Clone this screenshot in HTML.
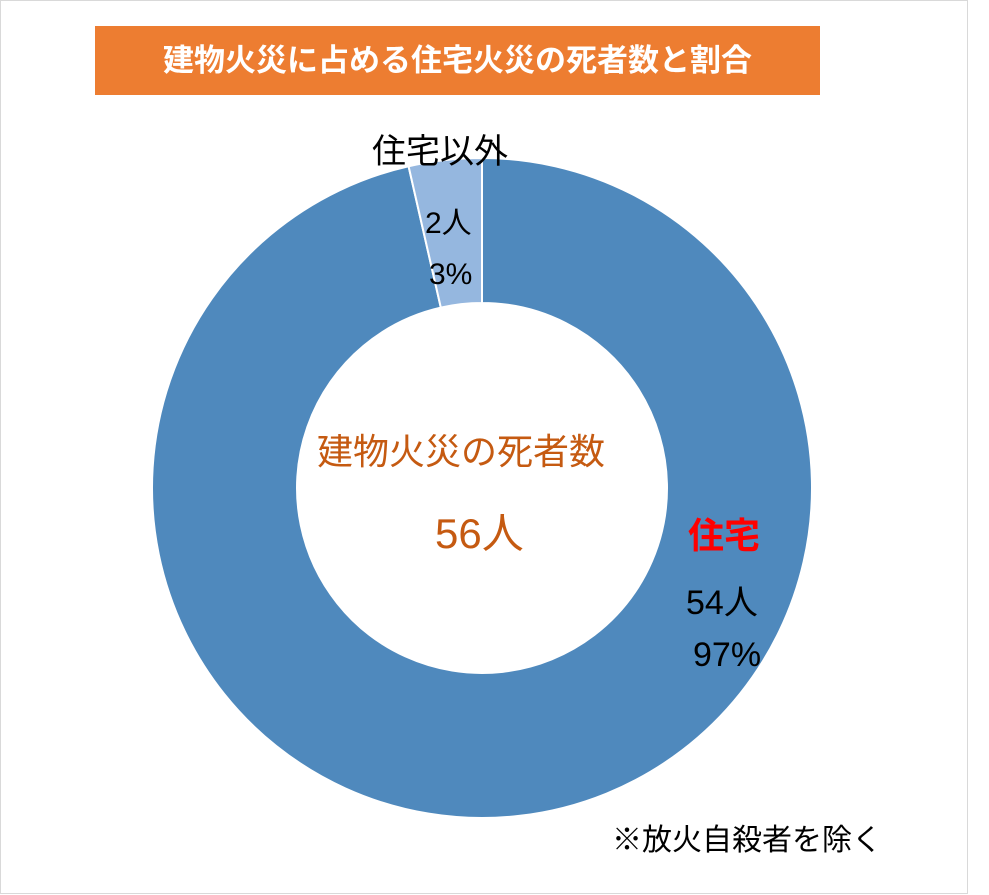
<!DOCTYPE html>
<html><head><meta charset="utf-8"><style>
body{margin:0;background:#fff;}
#wrap{position:relative;width:989px;height:895px;overflow:hidden;font-family:"Liberation Sans","Noto Sans CJK JP",sans-serif;}
.frame{position:absolute;left:0;top:0;width:966px;height:892px;border:1px solid #d9d9d9;box-sizing:content-box;}
.t{position:absolute;white-space:nowrap;}
</style></head><body>
<div id="wrap">
<div class="frame"></div>
<div class="t" style="left:95px;top:26px;width:725px;height:69px;background:#ED7D31;color:#fff;font-weight:bold;font-size:31px;line-height:69px;text-align:center;">建物火災に占める住宅火災の死者数と割合</div>
<svg id="chart" width="989" height="895" style="position:absolute;left:0;top:0"></svg>
<div class="t" style="left:372px;top:124px;font-size:34px;color:#000;">住宅以外</div>
<div class="t" style="left:425px;top:198px;font-size:30px;color:#000;">2人</div>
<div class="t" style="left:429px;top:258px;font-size:30px;color:#000;">3%</div>
<div class="t" style="left:317px;top:423px;font-size:36px;color:#C55A11;">建物火災の死者数</div>
<div class="t" style="left:435px;top:500px;font-size:42px;color:#C55A11;">56人</div>
<div class="t" style="left:688px;top:507px;font-size:36px;font-weight:bold;color:#FF0000;">住宅</div>
<div class="t" style="left:686px;top:575px;font-size:34px;color:#000;">54人</div>
<div class="t" style="left:693px;top:636px;font-size:34px;color:#000;">97%</div>
<div class="t" style="left:612px;top:815px;font-size:30px;color:#000;">※放火自殺者を除く</div>
</div>
<script>
const categories=["住宅","住宅以外"];
const values=[54,2];
const colors=["#4F89BD","#95B7DF"];
const cx=482,cy=488,R=330,r=185;
const svg=document.getElementById('chart');
const total=values.reduce((a,b)=>a+b,0);
function pt(rad,a){return [cx+rad*Math.sin(a),cy-rad*Math.cos(a)];}
// start so that the last slice ends at the top (12 o'clock)
let start=-2*Math.PI*values[values.length-1]/total*0;
let a0=0;
// residential goes clockwise from top to 360 - share of other
const order=[0,1];
let acc=0;
order.forEach(i=>{
  const a1=acc+2*Math.PI*values[i]/total;
  const large=(a1-acc)>Math.PI?1:0;
  const p1=pt(R,acc),p2=pt(R,a1),p3=pt(r,a1),p4=pt(r,acc);
  const path=document.createElementNS('http://www.w3.org/2000/svg','path');
  path.setAttribute('d',`M${p1[0]},${p1[1]} A${R},${R} 0 ${large} 1 ${p2[0]},${p2[1]} L${p3[0]},${p3[1]} A${r},${r} 0 ${large} 0 ${p4[0]},${p4[1]} Z`);
  path.setAttribute('fill',colors[i]);
  path.setAttribute('stroke','#fff');
  path.setAttribute('stroke-width','2');
  
  
  svg.appendChild(path);
  acc=a1;
});
</script>
</body></html>
